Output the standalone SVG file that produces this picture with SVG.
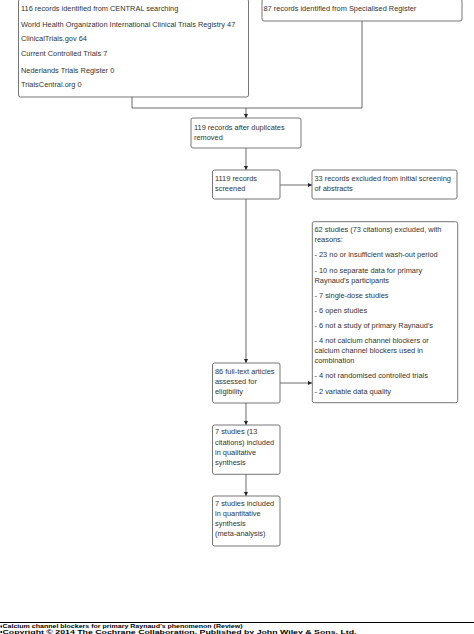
<svg xmlns="http://www.w3.org/2000/svg" width="474" height="634" viewBox="0 0 474 634">
<style>
.box{fill:#fff;stroke:#666;stroke-width:0.9}
.t{font-family:"Liberation Sans",Arial,sans-serif;font-size:7.4px;fill:#333}
.c{fill:none;stroke:#444;stroke-width:0.8}
.f{font-family:"Liberation Sans",Arial,sans-serif;font-size:5.8px;font-weight:bold;fill:#000}
</style>
<defs>
<marker id="ah" viewBox="0 0 6 6" refX="6" refY="3" markerWidth="4" markerHeight="4" orient="auto" markerUnits="userSpaceOnUse">
<path d="M0,0 L6,3 L0,6 Z" fill="#222"/>
</marker>
</defs>
<rect width="474" height="634" fill="#fff"/>
<g id="connectors">
<path class="c" d="M132,97 V108 H362 V21"/>
<path class="c" d="M246,108 V118" marker-end="url(#ah)"/>
<path class="c" d="M246,148 V170" marker-end="url(#ah)"/>
<path class="c" d="M280,185 H312" marker-end="url(#ah)"/>
<path class="c" d="M246,199 V363" marker-end="url(#ah)"/>
<path class="c" d="M280,383 H312" marker-end="url(#ah)"/>
<path class="c" d="M246,403 V425" marker-end="url(#ah)"/>
<path class="c" d="M246,474 V496" marker-end="url(#ah)"/>
</g>
<g id="n1">
<rect class="box" x="18.5" y="-1" width="230" height="98" rx="2"/>
<text class="t" x="21" y="10.5">116 records identified from CENTRAL searching</text>
<text class="t" x="21" y="26.5">World Health Organization International Clinical Trials Registry 47</text>
<text class="t" x="21" y="41">ClinicalTrials.gov 64</text>
<text class="t" x="21" y="56">Current Controlled Trials 7</text>
<text class="t" x="21" y="72.5">Nederlands Trials Register 0</text>
<text class="t" x="21" y="87">TrialsCentral.org 0</text>
</g>
<g id="n2">
<rect class="box" x="262" y="-1" width="200" height="22" rx="2"/>
<text class="t" x="263.5" y="10.5">87 records identified from Specialised Register</text>
</g>
<g id="n3">
<rect class="box" x="191" y="118" width="110" height="30" rx="2"/>
<text class="t" x="194" y="129.5">119 records after duplicates</text>
<text class="t" x="194" y="139.5">removed</text>
</g>
<g id="n4">
<rect class="box" x="212.5" y="170" width="67.5" height="29" rx="2"/>
<text class="t" x="215" y="180.5">1119 records</text>
<text class="t" x="215" y="190.5">screened</text>
</g>
<g id="n5">
<rect class="box" x="312" y="170" width="145" height="29" rx="2"/>
<text class="t" x="314.5" y="180.5">33 records excluded from initial screening</text>
<text class="t" x="314.5" y="190.5">of abstracts</text>
</g>
<g id="n6">
<rect class="box" x="212.5" y="363" width="67.5" height="40" rx="2"/>
<text class="t" x="215" y="373.5">86 full-text articles</text>
<text class="t" x="215" y="383.5">assessed for</text>
<text class="t" x="215" y="393.5">eligibility</text>
</g>
<g id="n7">
<rect class="box" x="312.3" y="221.7" width="145.4" height="181" rx="2"/>
<text class="t" x="314.5" y="231.5">62 studies (73 citations) excluded, with</text>
<text class="t" x="314.5" y="241.5">reasons:</text>
<text class="t" x="314.5" y="256.5">- 23 no or insufficient wash-out period</text>
<text class="t" x="314.5" y="272.5">- 10 no separate data for primary</text>
<text class="t" x="314.5" y="282.5">Raynaud's participants</text>
<text class="t" x="314.5" y="297.5">- 7 single-dose studies</text>
<text class="t" x="314.5" y="312.5">- 6 open studies</text>
<text class="t" x="314.5" y="328">- 6 not a study of primary Raynaud's</text>
<text class="t" x="314.5" y="342.5">- 4 not calcium channel blockers or</text>
<text class="t" x="314.5" y="352.5">calcium channel blockers used in</text>
<text class="t" x="314.5" y="362.8">combination</text>
<text class="t" x="314.5" y="378">- 4 not randomised controlled trials</text>
<text class="t" x="314.5" y="393.5">- 2 variable data quality</text>
</g>
<g id="n8">
<rect class="box" x="212.5" y="425" width="67.5" height="49.3" rx="2"/>
<text class="t" x="215" y="434">7 studies (13</text>
<text class="t" x="215" y="444.5">citations) included</text>
<text class="t" x="215" y="454.5">in qualitative</text>
<text class="t" x="215" y="464.5">synthesis</text>
</g>
<g id="n9">
<rect class="box" x="212.5" y="496" width="67.5" height="50" rx="2"/>
<text class="t" x="215" y="506">7 studies included</text>
<text class="t" x="215" y="516">in quantitative</text>
<text class="t" x="215" y="526">synthesis</text>
<text class="t" x="215" y="536">(meta-analysis)</text>
</g>
<g id="footer">
<line x1="0" y1="622.5" x2="474" y2="622.5" stroke="#000" stroke-width="1"/>
<rect x="0.5" y="625.5" width="1.5" height="2" fill="#000"/>
<rect x="0.5" y="631" width="1.5" height="2" fill="#000"/>
<text class="f" x="2.5" y="628" textLength="240" lengthAdjust="spacingAndGlyphs">Calcium channel blockers for primary Raynaud’s phenomenon (Review)</text>
<text class="f" x="2.5" y="633.5" textLength="354" lengthAdjust="spacingAndGlyphs">Copyright © 2014 The Cochrane Collaboration. Published by John Wiley &amp; Sons, Ltd.</text>
</g>
</svg>
